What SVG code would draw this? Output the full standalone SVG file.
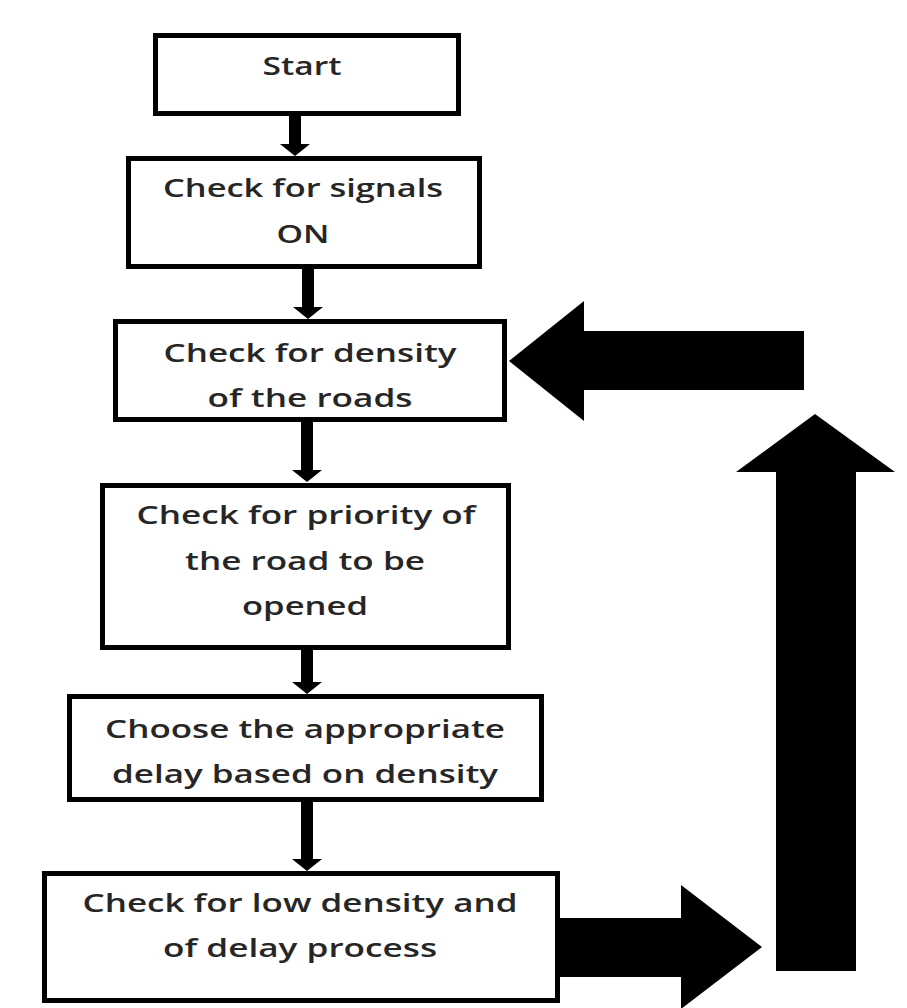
<svg xmlns="http://www.w3.org/2000/svg" width="907" height="1008" viewBox="0 0 907 1008">
<style>
.box{fill:#fff;stroke:#000;stroke-width:5}
.lbl{font-family:"Open Sans","Liberation Sans",sans-serif;font-size:25px;font-weight:600;fill:#262626;text-anchor:middle}
.arr{fill:#000}
</style>
<rect width="907" height="1008" fill="#fff"/>
<g id="connectors">
<path class="arr" d="M289,116 H301 V144 H310 L295,156 L280,144 H289 Z"/>
<path class="arr" d="M302,269 H314 V307 H323 L308,319 L293,307 H302 Z"/>
<path class="arr" d="M301,422 H313 V470 H322 L307,482 L292,470 H301 Z"/>
<path class="arr" d="M301,650 H313 V682 H322 L307,694 L292,682 H301 Z"/>
<path class="arr" d="M301,802 H313 V859 H322 L307,871 L292,859 H301 Z"/>
<path id="loop-left" class="arr" d="M509,361 L584,301 L584,331 L804,331 L804,390 L584,390 L584,421 Z"/>
<path id="loop-up" class="arr" d="M815,414 L895,472 L856,472 L856,971 L776,971 L776,472 L736,472 Z"/>
<path id="loop-right" class="arr" d="M560,918 L681,918 L681,885 L762,947 L681,1009 L681,977 L560,977 Z"/>
</g>
<g id="start">
<rect class="box" x="155.5" y="35.5" width="303" height="78"/>
<text class="lbl" x="302" y="75" textLength="79" lengthAdjust="spacingAndGlyphs">Start</text>
</g>
<g id="signals">
<rect class="box" x="128.5" y="158.5" width="351" height="108"/>
<text class="lbl" x="303" y="197" textLength="280" lengthAdjust="spacingAndGlyphs">Check for signals</text>
<text class="lbl" x="303" y="243" textLength="53" lengthAdjust="spacingAndGlyphs">ON</text>
</g>
<g id="density">
<rect class="box" x="115.5" y="321.5" width="389" height="98"/>
<text class="lbl" x="310" y="362" textLength="293" lengthAdjust="spacingAndGlyphs">Check for density</text>
<text class="lbl" x="310" y="407" textLength="205" lengthAdjust="spacingAndGlyphs">of the roads</text>
</g>
<g id="priority">
<rect class="box" x="102.5" y="485.5" width="406" height="162"/>
<text class="lbl" x="306" y="524" textLength="339" lengthAdjust="spacingAndGlyphs">Check for priority of</text>
<text class="lbl" x="305" y="570" textLength="240" lengthAdjust="spacingAndGlyphs">the road to be</text>
<text class="lbl" x="305" y="615" textLength="126" lengthAdjust="spacingAndGlyphs">opened</text>
</g>
<g id="delay">
<rect class="box" x="69.5" y="696.5" width="472" height="103"/>
<text class="lbl" x="305" y="738" textLength="400" lengthAdjust="spacingAndGlyphs">Choose the appropriate</text>
<text class="lbl" x="305" y="783" textLength="386" lengthAdjust="spacingAndGlyphs">delay based on density</text>
</g>
<g id="lowdensity">
<rect class="box" x="44.5" y="873.5" width="513" height="127"/>
<text class="lbl" x="300" y="912" textLength="435" lengthAdjust="spacingAndGlyphs">Check for low density and</text>
<text class="lbl" x="300" y="957" textLength="274" lengthAdjust="spacingAndGlyphs">of delay process</text>
</g>
</svg>
